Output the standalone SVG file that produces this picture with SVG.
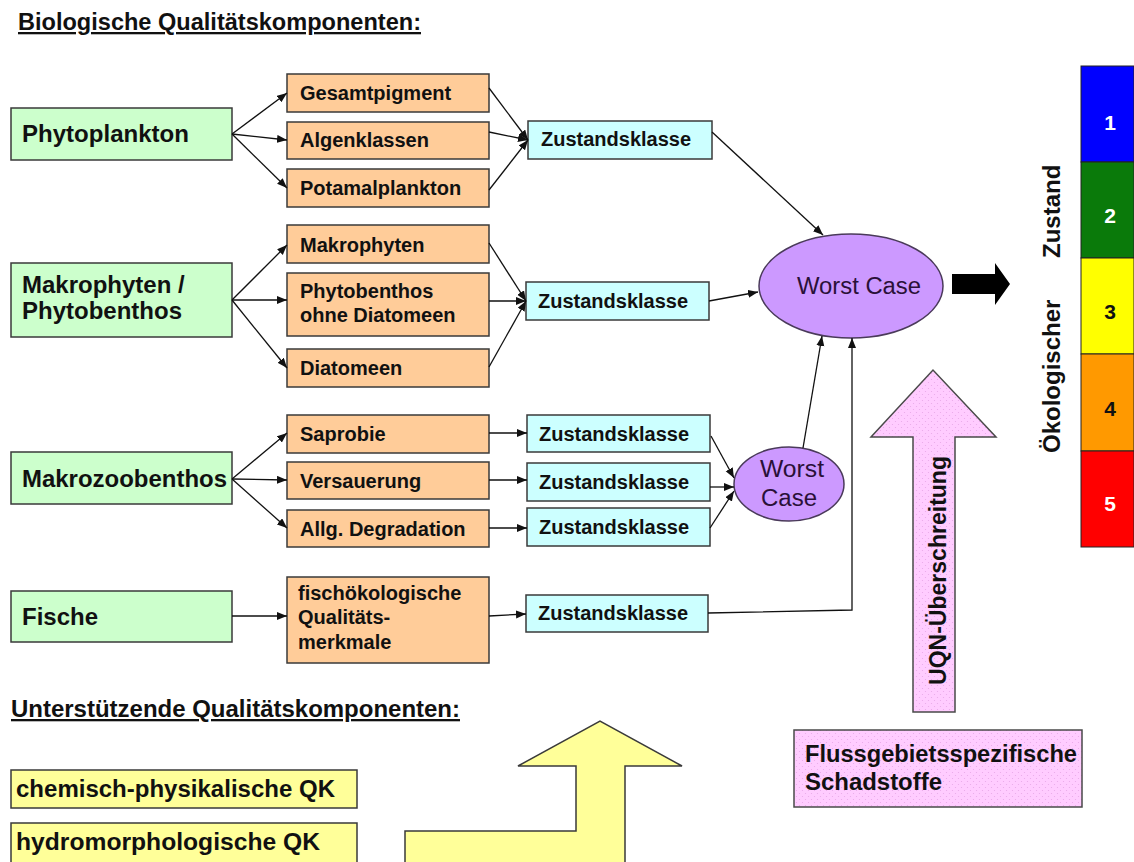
<svg xmlns="http://www.w3.org/2000/svg" width="1134" height="862" viewBox="0 0 1134 862">
<style>
text{font-family:"Liberation Sans",Arial,sans-serif;fill:#111}
.g{fill:#CCFFCC;stroke:#3a3a3a;stroke-width:1.5}
.o{fill:#FFCC99;stroke:#3a3a3a;stroke-width:1.5}
.c{fill:#CCFFFF;stroke:#3a3a3a;stroke-width:1.5}
.e{fill:#CC99FF;stroke:#4a3a5a;stroke-width:1.5}
.y{fill:#FFFF99;stroke:#3a3a3a;stroke-width:1.5}
.p{fill:url(#pinkdots);stroke:#4a4a4a;stroke-width:1.5}
.tg{font-size:24px;font-weight:bold}
.to{font-size:20px;font-weight:bold}
.tc{font-size:20px;font-weight:bold}
.tw{font-size:23px;fill:#2a1038}
.th{font-size:23px;font-weight:bold;text-decoration:underline}
.ty{font-size:23px;font-weight:bold}
.tz{font-size:24px;font-weight:bold}
.num{font-size:21px;font-weight:bold;text-anchor:middle}
#connectors line,#connectors polyline{stroke:#111;stroke-width:1.3;fill:none}
</style>
<defs>
<marker id="ah" markerUnits="userSpaceOnUse" markerWidth="11" markerHeight="9" refX="10" refY="4" orient="auto">
<path d="M0,0 L10,4 L0,8 z" fill="#111"/>
</marker>
<pattern id="pinkdots" patternUnits="userSpaceOnUse" width="6" height="6">
<rect width="6" height="6" fill="#FFCCFF"/>
<circle cx="1.5" cy="1.5" r="0.6" fill="#E8A8E8"/>
<circle cx="4.5" cy="4.5" r="0.6" fill="#E8A8E8"/>
</pattern>
</defs>
<rect width="1134" height="862" fill="#fff"/>

<text class="th" x="18" y="30" textLength="403" lengthAdjust="spacingAndGlyphs">Biologische Qualitätskomponenten:</text>

<g id="phytoplankton"><rect class="g" x="11" y="108" width="221" height="52"/><text class="tg" x="22" y="142" textLength="167" lengthAdjust="spacingAndGlyphs">Phytoplankton</text></g>
<g id="makrophyten-phytobenthos"><rect class="g" x="11" y="263" width="221" height="74"/><text class="tg" x="22" y="293">Makrophyten /</text><text class="tg" x="22" y="319">Phytobenthos</text></g>
<g id="makrozoobenthos"><rect class="g" x="11" y="452" width="221" height="52"/><text class="tg" x="22" y="487" textLength="205" lengthAdjust="spacingAndGlyphs">Makrozoobenthos</text></g>
<g id="fische"><rect class="g" x="11" y="591" width="221" height="51"/><text class="tg" x="22" y="625">Fische</text></g>

<g id="gesamtpigment"><rect class="o" x="287" y="74" width="202" height="38"/><text class="to" x="300" y="100">Gesamtpigment</text></g>
<g id="algenklassen"><rect class="o" x="287" y="122" width="202" height="37"/><text class="to" x="300" y="147">Algenklassen</text></g>
<g id="potamalplankton"><rect class="o" x="287" y="169" width="202" height="38"/><text class="to" x="300" y="195">Potamalplankton</text></g>
<g id="makrophyten"><rect class="o" x="287" y="225" width="202" height="38"/><text class="to" x="300" y="252">Makrophyten</text></g>
<g id="phytobenthos-ohne-diatomeen"><rect class="o" x="287" y="273" width="202" height="63"/><text class="to" x="300" y="298">Phytobenthos</text><text class="to" x="300" y="322">ohne Diatomeen</text></g>
<g id="diatomeen"><rect class="o" x="287" y="349" width="202" height="38"/><text class="to" x="300" y="375">Diatomeen</text></g>
<g id="saprobie"><rect class="o" x="287" y="415" width="202" height="38"/><text class="to" x="300" y="441">Saprobie</text></g>
<g id="versauerung"><rect class="o" x="287" y="462" width="202" height="37"/><text class="to" x="300" y="488">Versauerung</text></g>
<g id="allg-degradation"><rect class="o" x="287" y="510" width="202" height="37"/><text class="to" x="300" y="536">Allg. Degradation</text></g>
<g id="fischoekologische"><rect class="o" x="287" y="577" width="202" height="86"/><text class="to" x="298" y="600">fischökologische</text><text class="to" x="298" y="624">Qualitäts-</text><text class="to" x="298" y="649">merkmale</text></g>

<g id="zustand1"><rect class="c" x="528" y="121" width="184" height="38"/><text class="tc" x="541" y="146">Zustandsklasse</text></g>
<g id="zustand2"><rect class="c" x="526" y="282" width="183" height="38"/><text class="tc" x="538" y="308">Zustandsklasse</text></g>
<g id="zustand3"><rect class="c" x="527" y="415" width="183" height="37"/><text class="tc" x="539" y="441">Zustandsklasse</text></g>
<g id="zustand4"><rect class="c" x="527" y="463" width="183" height="38"/><text class="tc" x="539" y="489">Zustandsklasse</text></g>
<g id="zustand5"><rect class="c" x="527" y="508" width="183" height="38"/><text class="tc" x="539" y="534">Zustandsklasse</text></g>
<g id="zustand6"><rect class="c" x="526" y="595" width="182" height="37"/><text class="tc" x="538" y="620">Zustandsklasse</text></g>

<g id="worst-case-small"><ellipse class="e" cx="789" cy="484" rx="55" ry="37"/><text class="tw" x="760" y="477" textLength="64" lengthAdjust="spacingAndGlyphs">Worst</text><text class="tw" x="761" y="506" textLength="56" lengthAdjust="spacingAndGlyphs">Case</text></g>
<g id="worst-case"><ellipse class="e" cx="851" cy="286" rx="92" ry="52"/><text class="tw" x="797" y="294" textLength="124" lengthAdjust="spacingAndGlyphs">Worst Case</text></g>

<g id="result-arrow"><polygon points="952,274 995,274 995,263 1010,284 995,305 995,294 952,294" fill="#000"/></g>

<g id="zustand-scale">
<rect x="1081" y="66" width="53" height="96" fill="#0000FF" stroke="#222" stroke-width="1"/>
<rect x="1081" y="162" width="53" height="96" fill="#0A7A0A" stroke="#222" stroke-width="1"/>
<rect x="1081" y="258" width="53" height="96" fill="#FFFF00" stroke="#222" stroke-width="1"/>
<rect x="1081" y="354" width="53" height="97" fill="#FF9900" stroke="#222" stroke-width="1"/>
<rect x="1081" y="451" width="53" height="96" fill="#FF0000" stroke="#222" stroke-width="1"/>
<text class="num" x="1110" y="130" style="fill:#fff">1</text>
<text class="num" x="1110" y="223" style="fill:#fff">2</text>
<text class="num" x="1110" y="319" style="fill:#111">3</text>
<text class="num" x="1110" y="416" style="fill:#111">4</text>
<text class="num" x="1110" y="511" style="fill:#fff">5</text>
</g>
<g id="oekologischer-zustand"><text class="tz" transform="translate(1060,453) rotate(-90)">Ökologischer</text><text class="tz" transform="translate(1060,258) rotate(-90)">Zustand</text></g>

<g id="uqn-arrow"><polygon class="p" points="913,712 913,437 871,437 933,370 996,437 955,437 955,712"/><text transform="translate(946,685) rotate(-90)" style="font-size:24px;font-weight:bold" textLength="229" lengthAdjust="spacingAndGlyphs">UQN-Überschreitung</text></g>

<g id="schadstoffe"><rect class="p" x="794" y="730" width="288" height="77"/><text style="font-size:23px;font-weight:bold" x="805" y="762" textLength="272" lengthAdjust="spacingAndGlyphs">Flussgebietsspezifische</text><text style="font-size:23px;font-weight:bold" x="805" y="790" textLength="137" lengthAdjust="spacingAndGlyphs">Schadstoffe</text></g>

<text class="th" x="11" y="717" textLength="449" lengthAdjust="spacingAndGlyphs">Unterstützende  Qualitätskomponenten:</text>
<g id="chemisch-physikalische"><rect class="y" x="11" y="770" width="346" height="38"/><text class="ty" x="16" y="797" textLength="319" lengthAdjust="spacingAndGlyphs">chemisch-physikalische QK</text></g>
<g id="hydromorphologische"><rect class="y" x="11" y="823" width="346" height="45"/><text class="ty" x="16" y="850" textLength="304" lengthAdjust="spacingAndGlyphs">hydromorphologische QK</text></g>
<g id="support-arrow"><polygon class="y" points="405,868 405,831 576,831 576,766 518,766 600,721 682,766 625,766 625,868"/></g>

<g id="connectors">
<line x1="232" y1="134" x2="287" y2="93" marker-end="url(#ah)"/>
<line x1="232" y1="134" x2="287" y2="140" marker-end="url(#ah)"/>
<line x1="232" y1="134" x2="287" y2="188" marker-end="url(#ah)"/>
<line x1="489" y1="88" x2="528" y2="140" marker-end="url(#ah)"/>
<line x1="489" y1="132" x2="528" y2="140" marker-end="url(#ah)"/>
<line x1="489" y1="190" x2="528" y2="140" marker-end="url(#ah)"/>
<line x1="712" y1="132" x2="823" y2="235" marker-end="url(#ah)"/>

<line x1="232" y1="300" x2="287" y2="245" marker-end="url(#ah)"/>
<line x1="232" y1="300" x2="287" y2="300" marker-end="url(#ah)"/>
<line x1="232" y1="300" x2="287" y2="368" marker-end="url(#ah)"/>
<line x1="489" y1="243" x2="526" y2="301" marker-end="url(#ah)"/>
<line x1="489" y1="301" x2="526" y2="301" marker-end="url(#ah)"/>
<line x1="489" y1="367" x2="526" y2="301" marker-end="url(#ah)"/>
<line x1="709" y1="301" x2="758" y2="292" marker-end="url(#ah)"/>

<line x1="232" y1="479" x2="287" y2="433" marker-end="url(#ah)"/>
<line x1="232" y1="479" x2="287" y2="480" marker-end="url(#ah)"/>
<line x1="232" y1="479" x2="287" y2="528" marker-end="url(#ah)"/>
<line x1="489" y1="433" x2="527" y2="433" marker-end="url(#ah)"/>
<line x1="489" y1="480" x2="527" y2="480" marker-end="url(#ah)"/>
<line x1="489" y1="528" x2="527" y2="528" marker-end="url(#ah)"/>
<line x1="711" y1="436" x2="734" y2="478" marker-end="url(#ah)"/>
<line x1="710" y1="487" x2="734" y2="487" marker-end="url(#ah)"/>
<line x1="710" y1="528" x2="734" y2="491" marker-end="url(#ah)"/>
<line x1="803" y1="448" x2="822" y2="336" marker-end="url(#ah)"/>

<line x1="232" y1="616" x2="287" y2="616" marker-end="url(#ah)"/>
<line x1="489" y1="616" x2="526" y2="614" marker-end="url(#ah)"/>
<polyline points="708,613 852,610 852,338" marker-end="url(#ah)"/>
</g>
</svg>
